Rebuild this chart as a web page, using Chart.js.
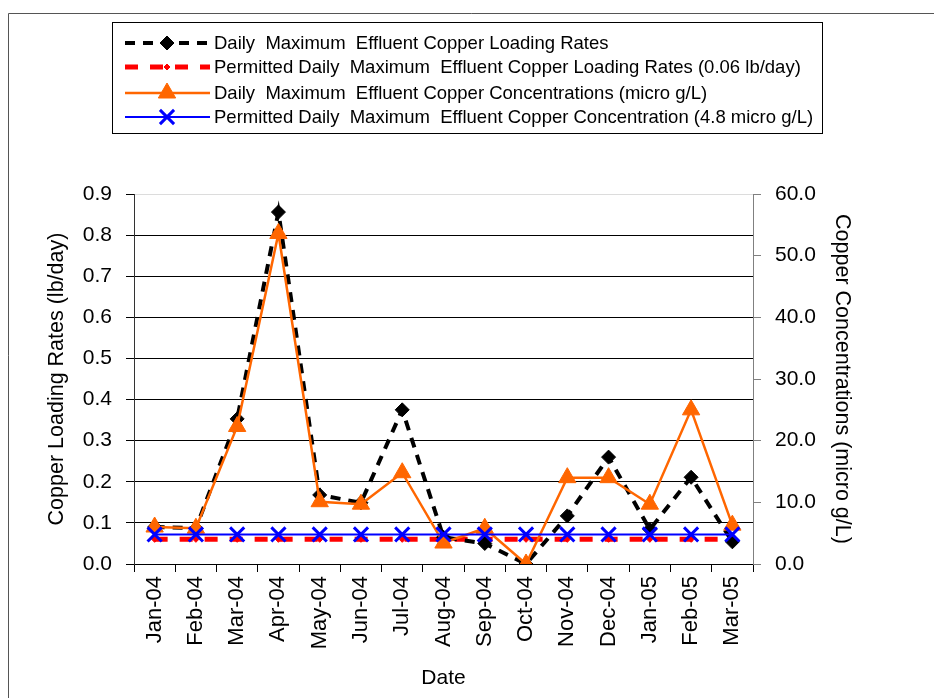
<!DOCTYPE html>
<html>
<head>
<meta charset="utf-8">
<title>Effluent Copper</title>
<script src="https://cdn.jsdelivr.net/npm/chart.js@4.4.0/dist/chart.umd.min.js"></script>
<style>
  html, body { margin: 0; padding: 0; background: #fff; }
  #wrap { width: 934px; height: 698px; position: relative; }
</style>
</head>
<body>
<div id="wrap"><canvas id="copperChart" width="934" height="698"></canvas></div>
<script>
/* global Chart */

// Monthly sampling dates
const months = ['Jan-04', 'Feb-04', 'Mar-04', 'Apr-04', 'May-04', 'Jun-04', 'Jul-04', 'Aug-04',
  'Sep-04', 'Oct-04', 'Nov-04', 'Dec-04', 'Jan-05', 'Feb-05', 'Mar-05'];

// Loading rates (lb/day) - left axis
const loadingRates = [0.090, 0.087, 0.353, 0.856, 0.168, 0.149, 0.375, 0.065,
  0.050, 0.000, 0.117, 0.260, 0.084, 0.211, 0.054];
const permittedLoading = [0.06, 0.06, 0.06, 0.06, 0.06, 0.06, 0.06, 0.06,
  0.06, 0.06, 0.06, 0.06, 0.06, 0.06, 0.06];

// Concentrations (micro g/L) - right axis
const concentrations = [6.0, 5.8, 22.3, 53.6, 10.1, 9.7, 14.8, 3.4,
  5.8, 0.0, 14.0, 14.0, 9.7, 25.0, 6.3];
const permittedConc = [4.8, 4.8, 4.8, 4.8, 4.8, 4.8, 4.8, 4.8,
  4.8, 4.8, 4.8, 4.8, 4.8, 4.8, 4.8];

const loadTicks = [0, 0.1, 0.2, 0.3, 0.4, 0.5, 0.6, 0.7, 0.8, 0.9];
const concTicks = [0, 10, 20, 30, 40, 50, 60];

const FONT = "'Liberation Sans', Arial, sans-serif";

// Outer frame of the figure (only top and left edges fall inside the canvas)
const framePlugin = {
  id: 'frame',
  beforeDraw(chart) {
    const ctx = chart.ctx;
    ctx.save();
    ctx.fillStyle = '#fff';
    ctx.fillRect(0, 0, chart.width, chart.height);
    ctx.strokeStyle = '#555';
    ctx.lineWidth = 1;
    ctx.beginPath();
    ctx.moveTo(8.5, chart.height);
    ctx.lineTo(8.5, 13.5);
    ctx.lineTo(chart.width, 13.5);
    ctx.stroke();
    ctx.restore();
  }
};

// Boxed legend with line samples drawn from each dataset's own style
const boxLegendPlugin = {
  id: 'boxLegend',
  afterDraw(chart) {
    const ctx = chart.ctx;
    const box = { x: 112.5, y: 22.5, w: 710, h: 111 };
    const rows = [43, 67, 93, 117];
    ctx.save();
    ctx.fillStyle = '#fff';
    ctx.fillRect(box.x, box.y, box.w, box.h);
    ctx.strokeStyle = '#000';
    ctx.lineWidth = 1;
    ctx.strokeRect(box.x, box.y, box.w, box.h);

    chart.data.datasets.forEach((ds, i) => {
      const y = rows[i];
      ctx.save();
      ctx.strokeStyle = ds.borderColor;
      ctx.lineWidth = ds.borderWidth;
      ctx.setLineDash(ds.borderDash || []);
      ctx.beginPath();
      ctx.moveTo(125, y);
      ctx.lineTo(210, y);
      ctx.stroke();
      ctx.restore();

      ctx.save();
      ctx.fillStyle = ds.pointBackgroundColor;
      ctx.strokeStyle = ds.pointBorderColor;
      ctx.lineWidth = ds.pointBorderWidth;
      Chart.helpers.drawPoint(ctx, {
        pointStyle: ds.pointStyle,
        radius: ds.pointRadius,
        rotation: 0,
        borderWidth: ds.pointBorderWidth
      }, 167, y);
      ctx.restore();

      ctx.fillStyle = '#000';
      ctx.font = '18.5px ' + FONT;
      ctx.textBaseline = 'middle';
      ctx.fillText(ds.label, 214, y + 1);
    });
    ctx.restore();
  }
};

function initCopperChart() {
  const ctx = document.getElementById('copperChart');

  new Chart(ctx, {
    type: 'line',
    data: {
      labels: months,
      datasets: [
        {
          label: 'Daily  Maximum  Effluent Copper Loading Rates',
          data: loadingRates,
          yAxisID: 'y',
          borderColor: '#000',
          borderWidth: 4,
          borderDash: [10, 8],
          pointStyle: 'rectRot',
          pointRadius: 7,
          pointBackgroundColor: '#000',
          pointBorderColor: '#000',
          pointBorderWidth: 1,
          order: 3
        },
        {
          label: 'Permitted Daily  Maximum  Effluent Copper Loading Rates (0.06 lb/day)',
          data: permittedLoading,
          yAxisID: 'y',
          borderColor: '#ff0000',
          borderWidth: 5,
          borderDash: [13, 12],
          pointStyle: 'rectRot',
          pointRadius: 3,
          pointBackgroundColor: '#ff0000',
          pointBorderColor: '#ff0000',
          pointBorderWidth: 1,
          order: 4
        },
        {
          label: 'Daily  Maximum  Effluent Copper Concentrations (micro g/L)',
          data: concentrations,
          yAxisID: 'y1',
          borderColor: '#ff6600',
          borderWidth: 2.5,
          pointStyle: 'triangle',
          pointRadius: 10,
          pointBackgroundColor: '#ff6600',
          pointBorderColor: '#ff6600',
          pointBorderWidth: 1,
          order: 2
        },
        {
          label: 'Permitted Daily  Maximum  Effluent Copper Concentration (4.8 micro g/L)',
          data: permittedConc,
          yAxisID: 'y1',
          borderColor: '#0000ff',
          borderWidth: 2,
          pointStyle: 'crossRot',
          pointRadius: 10,
          pointBackgroundColor: '#0000ff',
          pointBorderColor: '#0000ff',
          pointBorderWidth: 3,
          order: 1
        }
      ]
    },
    options: {
      responsive: false,
      animation: false,
      devicePixelRatio: 1,
      layout: { padding: { top: 194, left: 41, right: 76, bottom: 4 } },
      plugins: {
        legend: { display: false },
        title: { display: false },
        tooltip: { enabled: false }
      },
      elements: { line: { tension: 0 } },
      scales: {
        x: {
          type: 'category',
          offset: true,
          grid: {
            display: true,
            drawOnChartArea: false,
            offset: true,
            tickLength: 8,
            color: '#000'
          },
          border: { color: '#000', width: 1 },
          ticks: {
            autoSkip: false,
            minRotation: 90,
            maxRotation: 90,
            padding: 4,
            color: '#000',
            font: { family: FONT, size: 22 }
          },
          title: {
            display: true,
            text: 'Date',
            color: '#000',
            font: { family: FONT, size: 21 },
            padding: { top: 4, bottom: 3 }
          },
          afterFit(scale) { scale.height = 130; }
        },
        y: {
          position: 'left',
          min: 0,
          max: 0.9,
          afterBuildTicks(scale) {
            scale.ticks = loadTicks.map(v => ({ value: v }));
          },
          grid: {
            color: c => (c.index === loadTicks.length - 1 ? '#dcdcdc' : '#000'),
            tickColor: '#000',
            tickLength: 8,
            lineWidth: 1
          },
          border: { color: '#333', width: 1 },
          ticks: {
            padding: 14,
            color: '#000',
            font: { family: FONT, size: 21 },
            callback: v => Number(v).toFixed(1)
          },
          title: {
            display: true,
            text: 'Copper Loading Rates (lb/day)',
            color: '#000',
            font: { family: FONT, size: 21.5 },
            padding: { top: 3, bottom: 4 }
          },
          afterFit(scale) { scale.width = 93; }
        },
        y1: {
          position: 'right',
          min: 0,
          max: 60,
          afterBuildTicks(scale) {
            scale.ticks = concTicks.map(v => ({ value: v }));
          },
          grid: {
            drawOnChartArea: false,
            tickColor: '#808080',
            tickLength: 8
          },
          border: { color: '#808080', width: 1 },
          ticks: {
            padding: 14,
            color: '#000',
            font: { family: FONT, size: 21 },
            callback: v => Number(v).toFixed(1)
          },
          title: {
            display: true,
            text: 'Copper Concentrations (micro g/L)',
            color: '#000',
            font: { family: FONT, size: 21.5 },
            padding: { top: 3, bottom: 4 }
          },
          afterFit(scale) { scale.width = 105; }
        }
      }
    },
    plugins: [framePlugin, boxLegendPlugin]
  });
}

if (document.readyState === 'loading') {
  document.addEventListener('DOMContentLoaded', initCopperChart);
} else {
  initCopperChart();
}
</script>
</body>
</html>
